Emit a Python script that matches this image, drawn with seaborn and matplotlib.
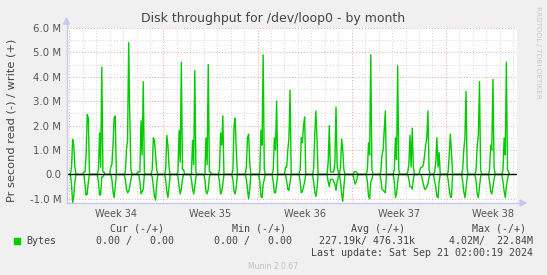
import numpy as np
import pandas as pd
import matplotlib
matplotlib.use("Agg")
import matplotlib.pyplot as plt
import seaborn as sns
from matplotlib.patches import Rectangle, Polygon
from matplotlib.lines import Line2D

# ---- data (values in M bytes/s, 2-hour samples, one list per day starting Mon 19 Aug) ----
WRITE_M = [
    [0, 0, 0.3, 1.44, 1.2, 0.3, 0, 0, 0, 0, 0, 0],
    [0, 0.1, 0.1, 0.8, 2.45, 2.3, 0, 0, 0, 0, 0, 0],
    [0, 0, 0.2, 1.7, 0.3, 4.4, 0.1, 0.1, 0, 0, 0, 0],
    [0, 0.3, 0.4, 1.2, 2.3, 2.4, 0, 0, 0, 0, 0, 0],
    [0, 0, 0.1, 1.0, 1.4, 5.4, 2.3, 0.2, 0, 0, 0, 0],
    [0, 0.1, 0.1, 0.1, 2.2, 0.8, 3.8, 0.1, 0, 0, 0, 0],
    [0, 0, 0.2, 1.5, 1.4, 0.8, 0.2, 0, 0, 0, 0, 0],
    [0, 0, 0.2, 1.6, 1.2, 0.3, 0, 0, 0, 0, 0, 0],
    [0, 0.1, 1.8, 0.5, 4.6, 0.2, 0.2, 0, 0, 0, 0, 0],
    [0, 0, 1.4, 0.4, 4.25, 0.1, 0, 0, 0, 0, 0, 0],
    [0, 0, 1.5, 0.4, 4.5, 0.1, 0.1, 0, 0, 0, 0, 0],
    [0, 0, 0.2, 1.7, 1.2, 2.4, 0, 0, 0, 0, 0, 0],
    [0, 0, 0.2, 2.0, 2.3, 1.0, 0, 0, 0, 0, 0, 0],
    [0, 0, 0.3, 1.5, 1.65, 0.5, 0, 0, 0, 0, 0, 0],
    [0, 0, 0.1, 1.8, 1.2, 4.9, 0.2, 0, 0, 0, 0, 0],
    [0, 0, 0.2, 1.5, 1.0, 3.0, 0, 0, 0, 0, 0, 0],
    [0, 0.3, 0.3, 1.0, 1.5, 3.45, 0, 0, 0, 0, 0, 0],
    [0, 0, 0.2, 1.5, 1.3, 2.0, 2.35, 0, 0, 0, 0, 0],
    [0, 0, 0.2, 1.6, 2.6, 1.5, 0, 0, 0, 0, 0, 0],
    [0, 0, 0, 0.5, 2.0, 0.1, 0.1, 0.1, 0.1, 0.5, 2.75, 0.3],
    [0.1, 0, 0.3, 1.45, 1.0, 0.2, 0, 0, 0, 0, 0, 0],
    [0, 0, 0.1, 0.12, 0.1, 0.05, 0, 0, 0, 0, 0, 0],
    [0, 0, 0.2, 1.3, 0.8, 4.9, 0.2, 0, 0, 0, 0, 0],
    [0, 0, 0.1, 0.8, 1.0, 1.8, 2.6, 0, 0, 0, 0, 0],
    [0, 0, 0.2, 1.5, 0.6, 4.45, 0.2, 0, 0, 0, 0, 0],
    [0, 0, 0.1, 0.4, 1.6, 0.3, 1.9, 0.3, 0, 0, 0, 0],
    [0, 0.2, 0.3, 0.3, 0.4, 0.8, 1.2, 1.5, 2.6, 0.2, 0, 0],
    [0, 0, 0.1, 0.5, 1.5, 0.3, 0.9, 0, 0, 0, 0, 0],
    [0, 0, 0.1, 0.8, 1.65, 0.9, 0, 0, 0, 0, 0, 0],
    [0, 0, 0, 0.2, 1.0, 1.5, 3.4, 0.2, 0, 0, 0, 0],
    [0, 0, 0, 0.2, 1.2, 1.6, 3.8, 0.2, 0, 0, 0, 0],
    [0, 0, 0, 0.2, 1.2, 1.0, 3.9, 0.3, 0, 0, 0, 0],
    [0, 0, 0, 0.2, 1.5, 0.8, 4.6, 0.2, 0.1, 0],
]
READ_M = [
    [0, 0, 0.4, 1.17, 0.9, 0.3, 0, 0, 0, 0, 0, 0],
    [0, 0, 0.4, 0.85, 0.8, 0.3, 0, 0, 0, 0, 0, 0],
    [0, 0, 0.3, 0.85, 0.8, 0.1, 0.1, 0, 0, 0, 0, 0],
    [0, 0, 0.2, 0.7, 0.95, 0.5, 0, 0, 0, 0, 0, 0],
    [0, 0, 0.2, 0.6, 0.75, 0.7, 0.5, 0.2, 0, 0, 0, 0],
    [0, 0, 0, 0.3, 0.8, 0.7, 0.6, 0, 0, 0, 0, 0],
    [0, 0, 0.1, 0.5, 0.9, 1.05, 0.4, 0, 0, 0, 0, 0],
    [0, 0, 0.2, 0.7, 0.95, 0.5, 0, 0, 0, 0, 0, 0],
    [0, 0.1, 0.5, 0.8, 0.6, 0.2, 0, 0, 0, 0, 0, 0],
    [0, 0.2, 0.6, 0.8, 0.5, 0.1, 0, 0, 0, 0, 0, 0],
    [0, 0.2, 0.7, 0.8, 0.6, 0.1, 0, 0, 0, 0, 0, 0],
    [0, 0, 0.3, 0.8, 0.7, 0.4, 0, 0, 0, 0, 0, 0],
    [0, 0, 0.2, 0.7, 0.8, 0.5, 0, 0, 0, 0, 0, 0],
    [0, 0, 0.2, 0.6, 1.0, 0.6, 0, 0, 0, 0, 0, 0],
    [0, 0, 0.3, 0.9, 0.95, 0.4, 0.2, 0, 0, 0, 0, 0],
    [0, 0, 0.3, 0.75, 0.75, 0.4, 0, 0, 0, 0, 0, 0],
    [0, 0, 0.3, 0.6, 0.65, 0.3, 0, 0, 0, 0, 0, 0],
    [0, 0, 0.3, 0.75, 0.7, 0.5, 0.3, 0, 0, 0, 0, 0],
    [0, 0, 0.3, 0.7, 0.9, 0.6, 0, 0, 0, 0, 0, 0],
    [0, 0, 0, 0.3, 0.5, 0.2, 0.2, 0.2, 0.3, 0.4, 0.65, 0.3],
    [0.1, 0, 0.3, 0.8, 1.1, 0.5, 0, 0, 0, 0, 0, 0],
    [0, 0, 0.2, 0.4, 0.3, 0.1, 0, 0, 0, 0, 0, 0],
    [0, 0, 0.3, 0.9, 1.0, 0.3, 0.2, 0, 0, 0, 0, 0],
    [0, 0, 0.2, 0.6, 0.65, 0.7, 0.75, 0, 0, 0, 0, 0],
    [0, 0, 0.3, 0.95, 0.8, 0.3, 0, 0, 0, 0, 0, 0],
    [0, 0, 0, 0.2, 0.5, 0.5, 0.6, 0.2, 0, 0, 0, 0],
    [0, 0, 0, 0.2, 0.4, 0.6, 0.6, 0.5, 0.4, 0.1, 0, 0],
    [0, 0, 0.3, 0.5, 0.9, 0.95, 0.3, 0, 0, 0, 0, 0],
    [0, 0, 0.2, 0.6, 0.9, 0.95, 0, 0, 0, 0, 0, 0],
    [0, 0, 0, 0.3, 0.7, 0.95, 0.6, 0.1, 0, 0, 0, 0],
    [0, 0, 0, 0.3, 0.8, 0.95, 0.5, 0.1, 0, 0, 0, 0],
    [0, 0, 0, 0.3, 0.7, 0.8, 0.5, 0.2, 0, 0, 0, 0],
    [0, 0, 0, 0.3, 0.7, 0.95, 0.5, 0.2, 0, 0],
]
SAMPLES_PER_DAY = 12
WEEK_LABELS = ["Week 34", "Week 35", "Week 36", "Week 37", "Week 38"]
Y_TICKS = [-1, 0, 1, 2, 3, 4, 5, 6]
Y_TICK_LABELS = ["-1.0 M", "0.0", "1.0 M", "2.0 M", "3.0 M", "4.0 M", "5.0 M", "6.0 M"]
TITLE = "Disk throughput for /dev/loop0 - by month"
YLABEL = "Pr second read (-) / write (+)"
LEGEND_HEAD = ["Cur (-/+)", "Min (-/+)", "Avg (-/+)", "Max (-/+)"]
LEGEND_VALS = ["0.00 /   0.00", "0.00 /   0.00", "227.19k/ 476.31k", "4.02M/  22.84M"]
LAST_UPDATE = "Last update: Sat Sep 21 02:00:19 2024"

# ---- build frame ----
rows = []
for d, (w_day, r_day) in enumerate(zip(WRITE_M, READ_M)):
    for i, (w, r) in enumerate(zip(w_day, r_day)):
        rows.append((d + i / SAMPLES_PER_DAY, w, -r))
df = pd.DataFrame(rows, columns=["day", "write", "read"])

sns.set_style("white")
plt.rcParams["font.family"] = ["DejaVu Sans"]

W, H = 547, 275
fig = plt.figure(figsize=(W / 100, H / 100), dpi=100, facecolor="#f0f0f0")

def fx(px):
    return px / W

def fy(py):
    return 1 - py / H

L, R, T, B = 67, 517, 28, 203
ax = fig.add_axes([fx(L), fy(B), fx(R) - fx(L), fy(T) - fy(B)])
ax.set_facecolor("white")
XMIN, XMAX = -0.17, 33.29
YMIN, YMAX = -1.17, 6.0
ax.set_xlim(XMIN, XMAX)
ax.set_ylim(YMIN, YMAX)

grey = "#d4d4d4"
red = "#eea0a0"
dots = (0, (1, 2))
for d in range(0, 34):
    if d % 7 == 0:
        continue
    ax.axvline(d, color=grey, lw=0.7, ls=dots, zorder=1)
for d in range(0, 34, 7):
    ax.axvline(d, color=red, lw=0.7, ls=dots, zorder=1)
for v in np.arange(-0.5, 6.0, 1.0):
    ax.axhline(v, color=grey, lw=0.7, ls=dots, zorder=1)
for v in Y_TICKS:
    ax.axhline(v, color=red, lw=0.7, ls=dots, zorder=1)

sns.lineplot(data=df, x="day", y="write", ax=ax, color="#00cc00", lw=1.0,
             estimator=None, sort=False, zorder=3)
sns.lineplot(data=df, x="day", y="read", ax=ax, color="#00cc00", lw=1.0,
             estimator=None, sort=False, zorder=3)
ax.axhline(0, color="black", lw=1.0, zorder=4)

for s in ax.spines.values():
    s.set_visible(False)

ax.set_xlabel("")
ax.set_ylabel("")
ax.set_yticks(Y_TICKS)
ax.set_yticklabels(Y_TICK_LABELS)
ax.set_xticks([3.5 + 7 * k for k in range(len(WEEK_LABELS))])
ax.set_xticklabels(WEEK_LABELS)
ax.tick_params(axis="both", length=0, colors="#555555")
ax.tick_params(axis="y", labelsize=7.3, pad=4)
ax.tick_params(axis="x", labelsize=7.0, pad=4)

# axis lines with arrows
acol = "#c4c8f4"
fig.add_artist(Line2D([fx(L - 0.5), fx(L - 0.5)], [fy(B), fy(20)], color=acol, lw=1.0))
fig.add_artist(Line2D([fx(L - 0.5), fx(522)], [fy(B), fy(B)], color=acol, lw=1.0))
fig.add_artist(Polygon([[fx(L - 3.5), fy(24)], [fx(L + 2.5), fy(24)], [fx(L - 0.5), fy(18)]],
                       closed=True, color=acol))
fig.add_artist(Polygon([[fx(520), fy(B - 3)], [fx(520), fy(B + 3)], [fx(526), fy(B)]],
                       closed=True, color=acol))

txt = "#444444"
fig.text(fx(273), fy(18.5), TITLE, ha="center", va="center", fontsize=9, color=txt)
fig.text(fx(11.5), fy(120), YLABEL, ha="center", va="center", rotation=90, fontsize=8.2, color=txt)
fig.text(fx(538), fy(6), "RRDTOOL / TOBI OETIKER", ha="center", va="top", rotation=270,
         fontsize=5.2, color="#c8c8c8")

mono = "DejaVu Sans Mono"
fs = 7.2
fig.add_artist(Rectangle((fx(14), fy(244)), fx(6), fy(238) - fy(244), color="#00cc00"))
fig.text(fx(26), fy(241), "Bytes", ha="left", va="center", family=mono, fontsize=fs, color=txt)
head_right = [164, 285.5, 405, 526]
val_right = [173.5, 292, 415, 533]
for hr, h in zip(head_right, LEGEND_HEAD):
    fig.text(fx(hr), fy(228.5), h, ha="right", va="center", family=mono, fontsize=fs, color=txt)
for vr, v in zip(val_right, LEGEND_VALS):
    fig.text(fx(vr), fy(241), v, ha="right", va="center", family=mono, fontsize=fs, color=txt)
fig.text(fx(533), fy(253.5), LAST_UPDATE, ha="right", va="center", family=mono, fontsize=fs, color=txt)
fig.text(fx(273), fy(266.5), "Munin 2.0.67", ha="center", va="center", fontsize=5.5, color="#c0c0c0")

fig.savefig("out.png", dpi=100, facecolor=fig.get_facecolor())
